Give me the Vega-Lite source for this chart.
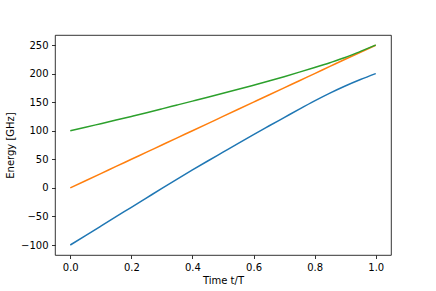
{
  "$schema": "https://vega.github.io/schema/vega-lite/v6.json",
  "autosize": "none",
  "width": 336,
  "height": 220,
  "padding": {"left": 55, "top": 35, "right": 45, "bottom": 36},
  "config": {
    "font": "DejaVu Sans",
    "view": {"stroke": "black", "strokeWidth": 0.8},
    "axis": {
      "domain": false,
      "grid": false,
      "ticks": true,
      "tickColor": "black",
      "tickSize": 3.5,
      "tickWidth": 0.8,
      "labelFont": "DejaVu Sans",
      "labelFontSize": 10,
      "labelColor": "black",
      "labelPadding": 3.5,
      "titleFont": "DejaVu Sans",
      "titleFontSize": 10,
      "titleFontWeight": "normal",
      "titleColor": "black"
    }
  },
  "data": {
    "values": [
      {"t": 0.0, "s": "E0", "e": -100}, {"t": 0.05, "s": "E0", "e": -83.5}, {"t": 0.1, "s": "E0", "e": -67}, {"t": 0.15, "s": "E0", "e": -50.5},
      {"t": 0.2, "s": "E0", "e": -34}, {"t": 0.25, "s": "E0", "e": -17.5}, {"t": 0.3, "s": "E0", "e": -1}, {"t": 0.35, "s": "E0", "e": 15.3},
      {"t": 0.4, "s": "E0", "e": 31.3}, {"t": 0.45, "s": "E0", "e": 47}, {"t": 0.5, "s": "E0", "e": 62.5}, {"t": 0.55, "s": "E0", "e": 78},
      {"t": 0.6, "s": "E0", "e": 93.3}, {"t": 0.65, "s": "E0", "e": 108.2}, {"t": 0.7, "s": "E0", "e": 123}, {"t": 0.75, "s": "E0", "e": 137.8},
      {"t": 0.8, "s": "E0", "e": 152.2}, {"t": 0.85, "s": "E0", "e": 165.8}, {"t": 0.9, "s": "E0", "e": 178.3}, {"t": 0.95, "s": "E0", "e": 189.6},
      {"t": 1.0, "s": "E0", "e": 200},
      {"t": 0.0, "s": "E1", "e": 0}, {"t": 0.05, "s": "E1", "e": 12.5}, {"t": 0.1, "s": "E1", "e": 25}, {"t": 0.15, "s": "E1", "e": 37.5},
      {"t": 0.2, "s": "E1", "e": 50}, {"t": 0.25, "s": "E1", "e": 62.5}, {"t": 0.3, "s": "E1", "e": 75}, {"t": 0.35, "s": "E1", "e": 87.5},
      {"t": 0.4, "s": "E1", "e": 100}, {"t": 0.45, "s": "E1", "e": 112.5}, {"t": 0.5, "s": "E1", "e": 125}, {"t": 0.55, "s": "E1", "e": 137.5},
      {"t": 0.6, "s": "E1", "e": 150}, {"t": 0.65, "s": "E1", "e": 162.5}, {"t": 0.7, "s": "E1", "e": 175}, {"t": 0.75, "s": "E1", "e": 187.5},
      {"t": 0.8, "s": "E1", "e": 200}, {"t": 0.85, "s": "E1", "e": 212.5}, {"t": 0.9, "s": "E1", "e": 225}, {"t": 0.95, "s": "E1", "e": 237.3},
      {"t": 1.0, "s": "E1", "e": 249.5},
      {"t": 0.0, "s": "E2", "e": 100}, {"t": 0.05, "s": "E2", "e": 106}, {"t": 0.1, "s": "E2", "e": 112.3}, {"t": 0.15, "s": "E2", "e": 118.6},
      {"t": 0.2, "s": "E2", "e": 125}, {"t": 0.25, "s": "E2", "e": 131.5}, {"t": 0.3, "s": "E2", "e": 138.2}, {"t": 0.35, "s": "E2", "e": 145},
      {"t": 0.4, "s": "E2", "e": 151.8}, {"t": 0.45, "s": "E2", "e": 158.6}, {"t": 0.5, "s": "E2", "e": 165.5}, {"t": 0.55, "s": "E2", "e": 172.5},
      {"t": 0.6, "s": "E2", "e": 179.7}, {"t": 0.65, "s": "E2", "e": 187}, {"t": 0.7, "s": "E2", "e": 194.6}, {"t": 0.75, "s": "E2", "e": 202.5},
      {"t": 0.8, "s": "E2", "e": 210.6}, {"t": 0.85, "s": "E2", "e": 219}, {"t": 0.9, "s": "E2", "e": 228}, {"t": 0.95, "s": "E2", "e": 238.8},
      {"t": 1.0, "s": "E2", "e": 250}
    ]
  },
  "mark": {"type": "line", "strokeWidth": 1.5, "clip": true, "interpolate": "monotone"},
  "encoding": {
    "x": {
      "field": "t", "type": "quantitative",
      "scale": {"domain": [-0.05, 1.05], "nice": false, "zero": false},
      "axis": {"values": [0, 0.2, 0.4, 0.6, 0.8, 1.0], "format": ".1f", "title": "Time t/T", "titlePadding": 3}
    },
    "y": {
      "field": "e", "type": "quantitative",
      "scale": {"domain": [-117.5, 267.5], "nice": false, "zero": false},
      "axis": {"values": [-100, -50, 0, 50, 100, 150, 200, 250], "title": "Energy [GHz]", "titlePadding": 5}
    },
    "color": {
      "field": "s", "type": "nominal",
      "scale": {"domain": ["E0", "E1", "E2"], "range": ["#1f77b4", "#ff7f0e", "#2ca02c"]},
      "legend": null
    },
    "order": {"field": "t", "type": "quantitative"}
  }
}
